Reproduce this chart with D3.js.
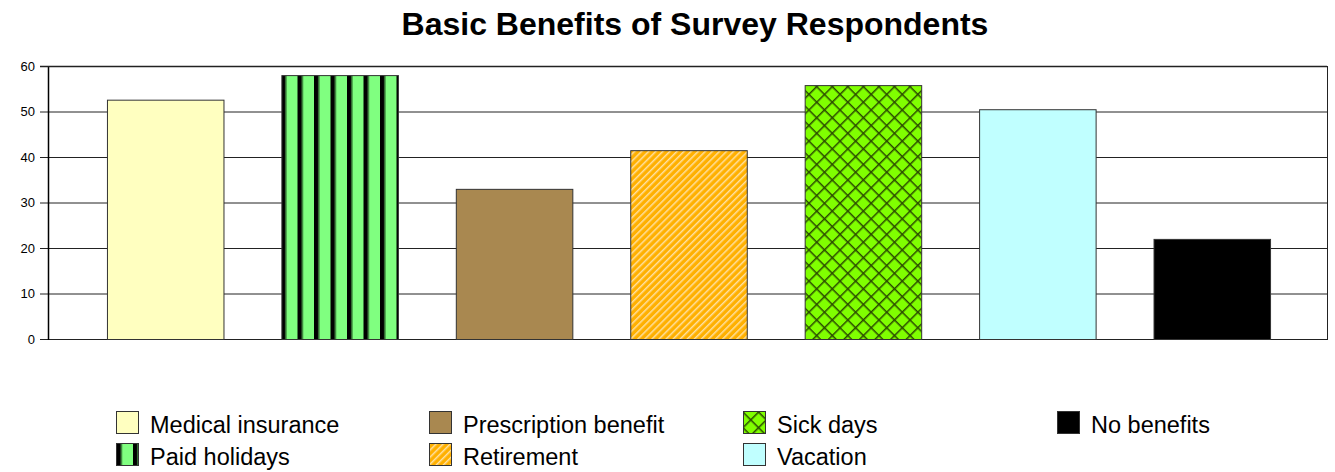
<!DOCTYPE html>
<html><head><meta charset="utf-8">
<script src="https://cdn.jsdelivr.net/npm/d3@7/dist/d3.min.js"></script>
<style>body{margin:0;background:#fff;} svg{display:block;font-family:"Liberation Sans",Arial,sans-serif;}</style>
</head><body><div id="chart"></div>
<script>
const categories = ["Medical insurance","Paid holidays","Prescription benefit","Retirement","Sick days","Vacation","No benefits"];
const values = [52.6, 58, 33, 41.5, 55.8, 50.5, 22];
const yTicks = [0,10,20,30,40,50,60];
const fills = ["#FFFFC0","url(#pStripes)","#A98850","url(#pDiag)","url(#pCross)","#C0FFFF","#000000"];

const W = 1335, H = 472;
const svg = d3.select("#chart").append("svg").attr("width", W).attr("height", H);
const defs = svg.append("defs");

// vertical stripes (Paid holidays)
const p1 = defs.append("pattern").attr("id","pStripes").attr("patternUnits","userSpaceOnUse")
  .attr("x",0.5).attr("width",16.5).attr("height",10);
p1.append("rect").attr("width",16.5).attr("height",10).attr("fill","#80FF80");
p1.append("rect").attr("x",0).attr("width",4.5).attr("height",10).attr("fill","#000");
p1.append("rect").attr("x",4.5).attr("width",1).attr("height",10).attr("fill","#2c6a2c");
// diagonal white stripes (Retirement)
const p2 = defs.append("pattern").attr("id","pDiag").attr("patternUnits","userSpaceOnUse")
  .attr("width",5).attr("height",5).attr("patternTransform","rotate(45)");
p2.append("rect").attr("width",5).attr("height",5).attr("fill","#FFB000");
p2.append("rect").attr("x",0).attr("width",1.5).attr("height",5).attr("fill","#FFE0A0");
// cross hatch (Sick days)
const p3 = defs.append("pattern").attr("id","pCross").attr("patternUnits","userSpaceOnUse")
  .attr("width",11).attr("height",11).attr("patternTransform","rotate(45)");
p3.append("rect").attr("width",11).attr("height",11).attr("fill","#80FF00");
p3.append("rect").attr("x",0).attr("width",1.5).attr("height",11).attr("fill","#2a4a00");
p3.append("rect").attr("y",0).attr("width",11).attr("height",1.5).attr("fill","#2a4a00");

const plot = {l:48, r:1327, t:66, b:339};
const y = d3.scaleLinear().domain([0,60]).range([plot.b, plot.t]);
const x = d3.scaleBand().domain(categories).range([78, 1299]).paddingInner(0.332).paddingOuter(0.166);

svg.append("text").attr("x",695).attr("y",35).attr("text-anchor","middle")
  .attr("font-size",32).attr("font-weight","bold").text("Basic Benefits of Survey Respondents");

// gridlines
svg.append("g").selectAll("line").data(yTicks).join("line")
  .attr("x1",plot.l-8).attr("x2",plot.r).attr("y1",d=>y(d)+0.5).attr("y2",d=>y(d)+0.5)
  .attr("stroke","#222").attr("stroke-width",1);
// plot border
svg.append("line").attr("x1",plot.l+0.5).attr("x2",plot.l+0.5).attr("y1",plot.t).attr("y2",plot.b+1).attr("stroke","#000").attr("stroke-width",1.5);
svg.append("line").attr("x1",plot.r+0.5).attr("x2",plot.r+0.5).attr("y1",plot.t).attr("y2",plot.b+1).attr("stroke","#222");
svg.append("line").attr("x1",plot.l-8).attr("x2",plot.r).attr("y1",plot.t+0.5).attr("y2",plot.t+0.5).attr("stroke","#222").attr("stroke-width",1.5);

// y axis labels
const ax = svg.append("g").attr("transform",`translate(${plot.l-8},0)`)
  .call(d3.axisLeft(y).tickValues(yTicks).tickSize(0).tickPadding(5));
ax.select(".domain").remove();
ax.selectAll("text").attr("font-size",13).attr("fill","#000").attr("font-family","Liberation Sans, Arial, sans-serif");

// bars
svg.append("g").selectAll("rect").data(categories).join("rect")
  .attr("x",d=>x(d)+0.5).attr("width",x.bandwidth())
  .attr("y",(d,i)=>y(values[i])+0.5).attr("height",(d,i)=>y(0)-y(values[i]))
  .attr("fill",(d,i)=>fills[i]).attr("stroke","#333").attr("stroke-width",1);

// legend
const colX = [116, 429, 743, 1057];
const rowY = [411, 443];
const lg = svg.append("g");
categories.forEach((c,i)=>{
  const col = Math.floor(i/2), row = i%2;
  const g = lg.append("g").attr("transform",`translate(${colX[col]},${rowY[row]})`);
  g.append("rect").attr("x",0.5).attr("y",0.5).attr("width",22).attr("height",22)
    .attr("fill",fills[i]).attr("stroke","#333");
  g.append("text").attr("x",34).attr("y",22).attr("font-size",23.5).attr("fill","#000").text(c);
});
</script></body></html>
